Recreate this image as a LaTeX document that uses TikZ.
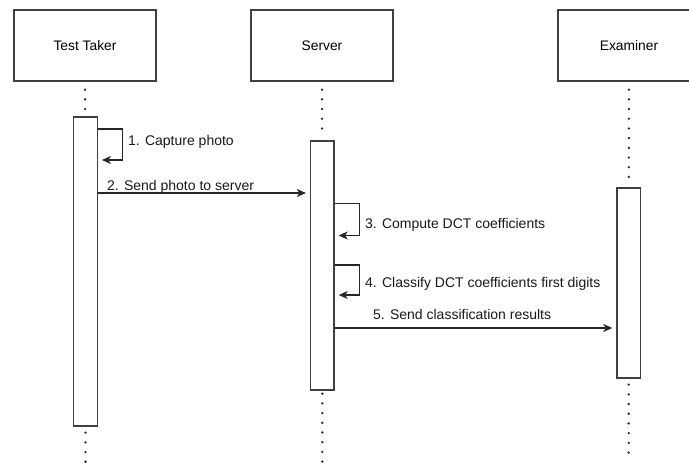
\documentclass[tikz,border=0pt]{standalone}
\usepackage{fontspec}
\setmainfont{Liberation Sans}
\usetikzlibrary{%
		arrows.meta%
		,positioning%
	}
\tikzset{
	actor/.style={draw=black!75,line width=1.3pt,minimum width=142pt,minimum height=71pt,inner sep=0pt,font=\fontsize{13.8}{16}\selectfont},
	bar/.style={draw=black!75,line width=1.3pt,fill=white,minimum width=23.5pt,inner sep=0pt},
	life/.style={black!85,line width=2.6pt,line cap=round,dash pattern=on 0pt off 9.7pt},
	msg/.style={black!85,line width=1.1pt,shorten >=4pt,-{Stealth[length=9pt,width=8pt,inset=2.5pt]}},
	lbl/.style={anchor=base west,inner sep=0pt,text=black!90},
}

\begin{document}
\begin{tikzpicture}[x=1pt,y=-1pt,font=\fontsize{14}{16}\selectfont]
			\useasboundingbox (0,0) rectangle (689,463);
			\clip (0,0) rectangle (689,463);
			% participants
			\node[actor] (taker) at (85,45.5) {Test Taker};
			\node[actor] (server) at (322,45.5) {Server};
			\node[actor] (examiner) at (629,45.5) {Examiner};
			% activation bars
			\node[bar,minimum height=309pt] (takerbar) at (85.5,271.5) {};
			\node[bar,minimum height=249pt] (serverbar) at (322.3,265.5) {};
			\node[bar,minimum height=190pt] (examinerbar) at (628.7,283) {};
			\coordinate (takerend) at (85.5,462);
			\coordinate (serverend) at (322.3,462);
			\coordinate (examinerend) at (628.7,462);
			% lifelines
			\draw[life,shorten <=8pt,shorten >=4pt] (taker) -- (takerbar);
			\draw[life,shorten <=8pt,shorten >=3pt] (server) -- (serverbar);
			\draw[life,shorten <=8pt,shorten >=3pt] (examiner) -- (examinerbar);
			\draw[life,shorten <=6pt] (takerbar) -- (takerend);
			\draw[life,shorten <=3pt] (serverbar) -- (serverend);
			\draw[life,shorten <=6pt] (examinerbar) -- (examinerend);
			% messages
			\draw[msg] (takerbar.east |- 0,129) -- ++(24.5,0) |- (takerbar.east |- 0,160);
			\node[lbl] (capture) at (128,145.6) {1. Capture photo};
			\draw[msg] (takerbar.east |- 0,193) -- (serverbar.west |- 0,193);
			\node[lbl] (send) at (107,190.7) {2. Send photo to server};
			\draw[msg] (serverbar.east |- 0,203.3) -- ++(24.5,0) |- (serverbar.east |- 0,235.5);
			\node[lbl] (compute) at (365,228.3) {3. Compute DCT coefficients};
			\draw[msg] (serverbar.east |- 0,265) -- ++(24.5,0) |- (serverbar.east |- 0,295);
			\node[lbl] (classify) at (365,287.2) {4. Classify DCT coefficients first digits};
			\draw[msg] (serverbar.east |- 0,328) -- (examinerbar.west |- 0,328);
			\node[lbl] (results) at (373,319) {5. Send classification results};
		\end{tikzpicture}
\end{document}
